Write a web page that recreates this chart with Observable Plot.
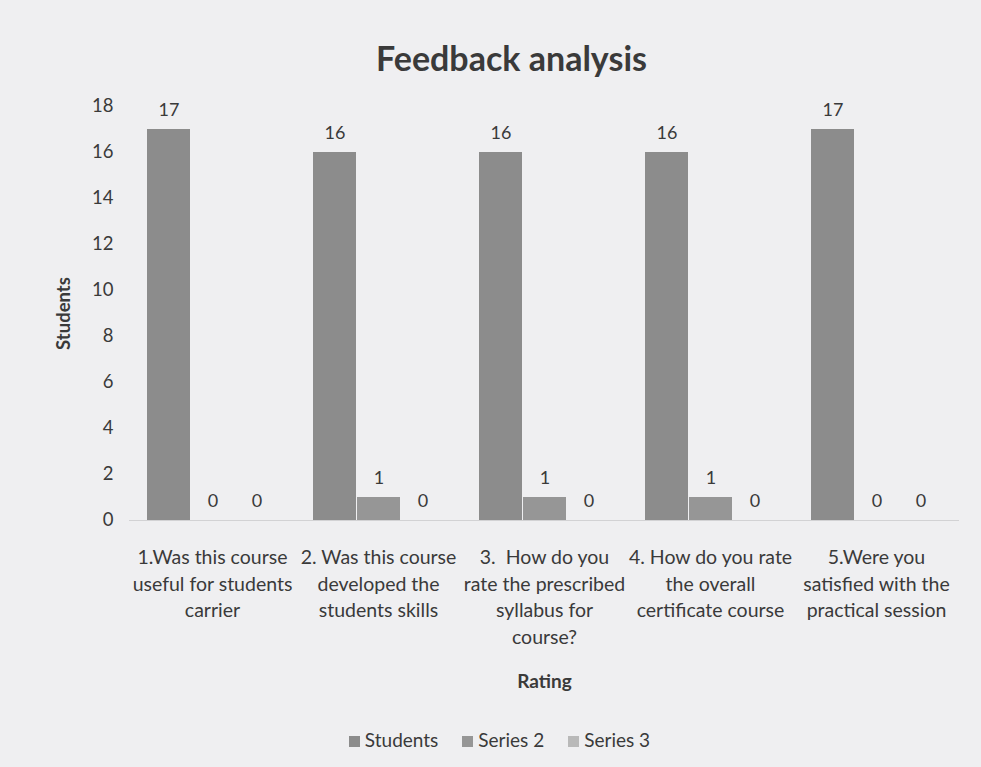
<!DOCTYPE html>
<html>
<head>
<meta charset="utf-8">
<script src="https://cdn.jsdelivr.net/npm/d3@7"></script>
<script src="https://cdn.jsdelivr.net/npm/@observablehq/plot@0.6"></script>
<style>
  html, body { margin: 0; padding: 0; background: #efeff1; }
  body { width: 981px; height: 767px; overflow: hidden; font-family: Lato, "Open Sans", sans-serif; color: #3a3a3a; }
  #title { height: 95px; box-sizing: border-box; padding-top: 40px; text-align: center; font-size: 34px; font-weight: bold; line-height: 36px; padding-left: 42px; }
  #legend { display: flex; justify-content: center; gap: 24px; font-size: 19px; line-height: 30px; padding-left: 18px; }
  #legend span.sw { display: inline-block; width: 11px; height: 11px; margin-right: 5px; vertical-align: 0px; }
</style>
</head>
<body>
<div id="title">Feedback analysis</div>
<div id="chart"></div>
<div id="legend"></div>
<script>
const categories = ["Q1", "Q2", "Q3", "Q4", "Q5"];
const tickLabels = [
  "1.Was this course\nuseful for students\ncarrier",
  "2. Was this course\ndeveloped the\nstudents skills",
  "3.  How do you\nrate the prescribed\nsyllabus for\ncourse?",
  "4. How do you rate\nthe overall\ncertificate course",
  "5.Were you\nsatisfied with the\npractical session"
];
const series = ["Students", "Series 2", "Series 3"];
const studentsValues = [17, 16, 16, 16, 17];
const series2Values = [0, 1, 1, 1, 0];
const series3Values = [0, 0, 0, 0, 0];
const seriesColors = ["#8c8c8c", "#969696", "#b9b9b9"];
const yTicks = [0, 2, 4, 6, 8, 10, 12, 14, 16, 18];

const valuesBySeries = [studentsValues, series2Values, series3Values];
const data = categories.flatMap((c, i) =>
  series.map((s, j) => ({category: c, series: s, value: valuesBySeries[j][i]}))
);

const chart = Plot.plot({
  width: 981,
  height: 630,
  marginTop: 11,
  marginBottom: 205,
  marginLeft: 128,
  marginRight: 21,
  style: {fontFamily: "Lato, 'Open Sans', sans-serif", fontSize: "18px", color: "#3a3a3a", background: "transparent", overflow: "visible"},
  fx: {domain: categories, paddingInner: 0, paddingOuter: 0, axis: null, label: null},
  x: {domain: series, axis: null, paddingInner: 0.03, paddingOuter: 0.36},
  y: {domain: [0, 18], axis: null},
  color: {domain: series, range: seriesColors},
  marks: [
    Plot.ruleY([0], {stroke: "#d2d2d4", strokeWidth: 1.2}),
    Plot.barY(data, {fx: "category", x: "series", y: "value", fill: "series"}),
    Plot.text(data, {fx: "category", x: "series", y: "value", text: d => String(d.value), dy: -14, lineAnchor: "bottom", fill: "#3a3a3a", fontSize: 18}),
    Plot.axisY({ticks: yTicks, tickSize: 0, tickPadding: 16, label: null, fontSize: 18.5, fill: "#3a3a3a"}),
    Plot.axisY({ticks: [], tickSize: 0, label: "Students", labelArrow: "none", labelAnchor: "center", labelOffset: 73, fontSize: 18.5, fontWeight: "bold", fill: "#3a3a3a"}),
    Plot.axisFx({anchor: "bottom", tickSize: 0, tickPadding: 25, tickFormat: d => tickLabels[categories.indexOf(d)], lineHeight: 1.36, fontSize: 19.5, label: null, fill: "#3a3a3a"}),
    Plot.axisFx({anchor: "bottom", ticks: [], tickSize: 0, label: "Rating", labelArrow: "none", labelAnchor: "center", labelOffset: 167, fontSize: 19, fontWeight: "bold", fill: "#3a3a3a"})
  ]
});
document.getElementById("chart").appendChild(chart);

const legend = document.getElementById("legend");
series.forEach((s, i) => {
  const item = document.createElement("div");
  const sw = document.createElement("span");
  sw.className = "sw";
  sw.style.background = seriesColors[i];
  item.appendChild(sw);
  item.appendChild(document.createTextNode(s));
  legend.appendChild(item);
});
</script>
</body>
</html>
